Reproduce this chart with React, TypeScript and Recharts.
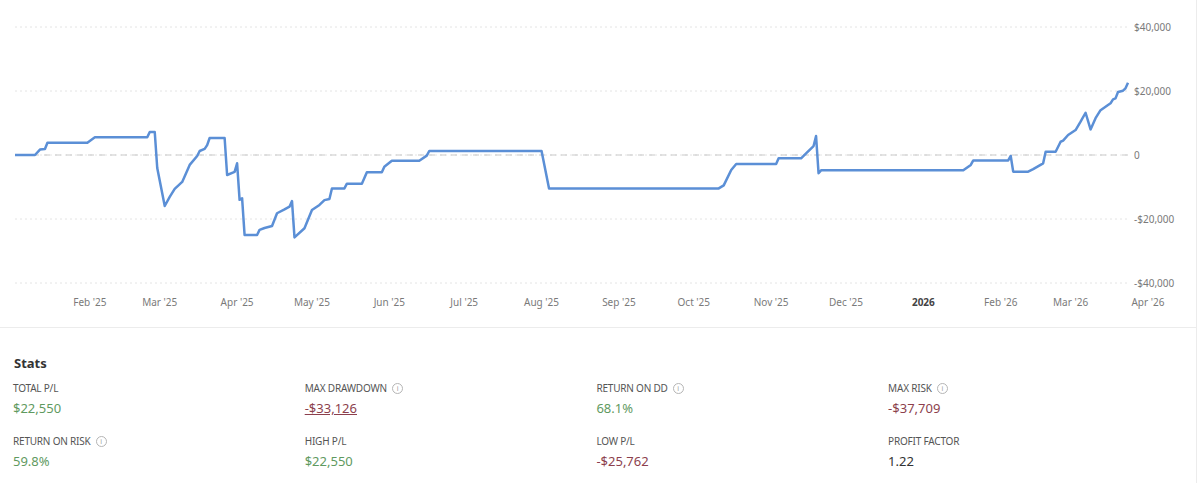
import { LineChart, Line, XAxis, YAxis, CartesianGrid, ReferenceLine } from "recharts";

// cumulative P/L by day
const DATES = [
  "2025-01-02", "2025-01-10", "2025-01-12", "2025-01-14", "2025-01-15", "2025-01-31",
  "2025-02-03", "2025-02-24", "2025-02-25", "2025-02-27", "2025-02-28",
  "2025-03-03", "2025-03-05", "2025-03-07", "2025-03-10", "2025-03-13", "2025-03-16",
  "2025-03-17", "2025-03-19", "2025-03-20", "2025-03-21", "2025-03-27", "2025-03-28",
  "2025-03-31", "2025-04-01", "2025-04-02", "2025-04-03", "2025-04-04", "2025-04-09",
  "2025-04-10", "2025-04-12", "2025-04-15", "2025-04-17", "2025-04-20", "2025-04-22",
  "2025-04-23", "2025-04-24", "2025-04-28", "2025-05-01", "2025-05-04", "2025-05-06",
  "2025-05-08", "2025-05-09", "2025-05-14", "2025-05-15", "2025-05-21", "2025-05-23",
  "2025-05-29", "2025-05-30", "2025-06-02", "2025-06-13", "2025-06-16", "2025-06-17",
  "2025-08-01", "2025-08-04", "2025-10-11", "2025-10-13", "2025-10-16", "2025-10-18",
  "2025-11-03", "2025-11-04", "2025-11-13", "2025-11-15", "2025-11-18", "2025-11-19",
  "2025-11-20", "2025-11-21", "2026-01-17", "2026-01-20", "2026-01-21", "2026-02-04",
  "2026-02-05", "2026-02-06", "2026-02-12", "2026-02-14", "2026-02-18", "2026-02-19",
  "2026-02-23", "2026-02-25", "2026-02-26", "2026-02-28", "2026-03-03", "2026-03-05",
  "2026-03-07", "2026-03-09", "2026-03-11", "2026-03-13", "2026-03-17", "2026-03-18",
  "2026-03-19", "2026-03-20", "2026-03-22", "2026-03-23", "2026-03-24",
];

const PNL = [
  0, 0, 1700, 1900, 3840, 3840,
  5530, 5530, 7190, 7190, -4060,
  -15940, -13100, -10600, -8400, -3100, -300,
  1250, 1900, 3100, 5300, 5300, -6250,
  -5300, -2600, -14000, -13500, -25000, -25000,
  -23400, -22800, -22200, -18200, -17000, -16150,
  -14400, -25762, -22900, -17200, -15600, -14100,
  -13750, -10450, -10450, -8970, -8970, -5400,
  -5400, -3650, -1800, -1800, -200, 1250,
  1250, -10450, -10450, -9500, -4700, -2800,
  -2800, -1030, -1030, 530, 2800, 5940,
  -5700, -4800, -4800, -3100, -1700, -1700,
  -300, -5200, -5200, -4400, -2600, 1000,
  1000, 4150, 4470, 6250, 7800, 10400,
  13200, 8000, 11500, 14000, 16150, 17400,
  17700, 19700, 20100, 20850, 22550,
];

const MONTH_TICKS = [
  "2025-02-01", "2025-03-01", "2025-04-01", "2025-05-01", "2025-06-01", "2025-07-01",
  "2025-08-01", "2025-09-01", "2025-10-01", "2025-11-01", "2025-12-01", "2026-01-01",
  "2026-02-01", "2026-03-01", "2026-04-01",
];
const MONTH_LABELS = [
  "Feb '25", "Mar '25", "Apr '25", "May '25", "Jun '25", "Jul '25",
  "Aug '25", "Sep '25", "Oct '25", "Nov '25", "Dec '25", "2026",
  "Feb '26", "Mar '26", "Apr '26",
];
const Y_TICKS = [-40000, -20000, 0, 20000, 40000];

const STAT_LABELS = [
  "TOTAL P/L", "MAX DRAWDOWN", "RETURN ON DD", "MAX RISK",
  "RETURN ON RISK", "HIGH P/L", "LOW P/L", "PROFIT FACTOR",
];
const STAT_VALUES = [
  "$22,550", "-$33,126", "68.1%", "-$37,709",
  "59.8%", "$22,550", "-$25,762", "1.22",
];
const STAT_INFO = [false, true, true, true, true, false, false, false];

const GREEN = "#5f9a5f";
const RED = "#8c3f4d";
const FONT = "'Noto Sans', sans-serif";

const ts = (d: string) => Date.parse(d + "T00:00:00Z");
const data = DATES.map((d, i) => ({ t: ts(d), pnl: PNL[i] }));
const tickTs = MONTH_TICKS.map(ts);

const fmtMoney = (v: number) => {
  if (v === 0) return "0";
  const s = "$" + Math.abs(v).toLocaleString("en-US");
  return v < 0 ? "-" + s : s;
};

function MonthTick(props: any) {
  const { x, y, payload } = props;
  const idx = tickTs.indexOf(payload.value);
  const label = MONTH_LABELS[idx] ?? "";
  const bold = label === "2026";
  return (
    <text
      x={x}
      y={y}
      dy="0.71em"
      textAnchor="middle"
      fontSize={10}
      fontFamily={FONT}
      fontWeight={bold ? 700 : 400}
      fill={bold ? "#444" : "#7a7a7a"}
    >
      {label}
    </text>
  );
}

function valueColor(v: string) {
  if (v.startsWith("-")) return RED;
  if (v.startsWith("$") || v.endsWith("%")) return GREEN;
  return "#333";
}

function Info() {
  return (
    <span
      style={{
        display: "inline-block",
        width: 9,
        height: 9,
        border: "1px solid #b5b5b5",
        borderRadius: "50%",
        fontSize: 7,
        lineHeight: "9px",
        textAlign: "center",
        color: "#a0a0a0",
        marginLeft: 5,
        verticalAlign: "1px",
      }}
    >
      i
    </span>
  );
}

export default function App() {
  return (
    <div
      style={{
        position: "absolute",
        left: 0,
        top: 0,
        width: 1200,
        height: 483,
        background: "#fff",
        fontFamily: FONT,
        overflow: "hidden",
      }}
    >
      <div style={{ position: "absolute", left: 1196, top: 0, width: 1, height: 483, background: "#ececec" }} />
      <LineChart
        width={1200}
        height={320}
        data={data}
        margin={{ top: 27, right: 0, bottom: 7, left: 15 }}
      >
        <CartesianGrid horizontal vertical={false} stroke="#e4e4e4" strokeDasharray="2 3" />
        <XAxis
          dataKey="t"
          type="number"
          domain={["dataMin", "dataMax"]}
          ticks={tickTs}
          interval={0}
          axisLine={false}
          tickLine={false}
          tickSize={6}
          tickMargin={10}
          height={30}
          tick={<MonthTick />}
        />
        <YAxis
          orientation="right"
          domain={[-40000, 40000]}
          ticks={Y_TICKS}
          width={72}
          axisLine={false}
          tickLine={false}
          tickSize={4}
          tickMargin={2}
          tickFormatter={fmtMoney}
          tick={{ fontSize: 10, fill: "#7a7a7a", fontFamily: FONT, textAnchor: "start" }}
        />
        <ReferenceLine y={0} stroke="#c9c9c9" strokeDasharray="6 5" />
        <Line
          type="linear"
          dataKey="pnl"
          stroke="#5b8fd6"
          strokeWidth={2.5}
          strokeLinejoin="round"
          dot={false}
          isAnimationActive={false}
        />
      </LineChart>
      <div style={{ position: "absolute", left: 0, top: 327, width: 1196, height: 1, background: "#ececec" }} />
      <div
        style={{
          position: "absolute",
          left: 14,
          top: 354,
          fontSize: 13,
          fontWeight: 700,
          color: "#333",
        }}
      >
        Stats
      </div>
      {STAT_LABELS.map((label, i) => {
        const col = i % 4;
        const row = Math.floor(i / 4);
        const left = 13 + col * 291.7;
        const top = 381 + row * 52.5;
        const v = STAT_VALUES[i];
        return (
          <div key={label} style={{ position: "absolute", left, top }}>
            <div style={{ fontSize: 10, color: "#555", lineHeight: "14px", letterSpacing: -0.2 }}>
              {label}
              {STAT_INFO[i] && <Info />}
            </div>
            <div
              style={{
                fontSize: 13,
                color: valueColor(v),
                lineHeight: "18px",
                marginTop: 4,
                textDecoration: label === "MAX DRAWDOWN" ? "underline" : "none",
              }}
            >
              {v}
            </div>
          </div>
        );
      })}
    </div>
  );
}
